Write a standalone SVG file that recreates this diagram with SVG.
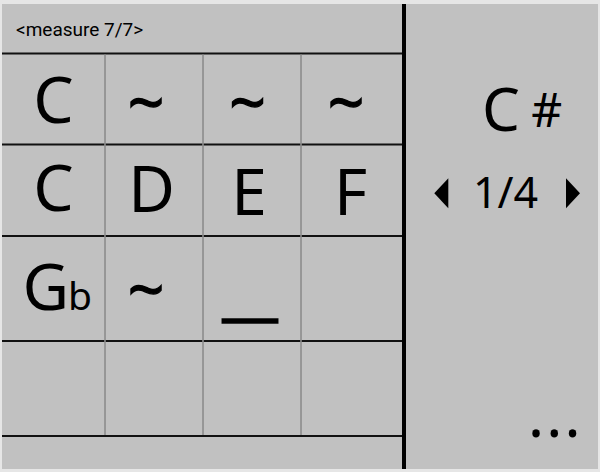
<svg xmlns="http://www.w3.org/2000/svg" width="600" height="472" viewBox="0 0 600 472">
  <style>
    .big { font-family: "Noto Sans", "Open Sans", sans-serif; font-size: 64px; fill: #000; }
    .tilde { stroke: #000; stroke-width: 1.3; }
    .hdr { font-family: Roboto, "Liberation Sans", sans-serif; font-size: 19px; fill: #000; }
    .rowline { stroke: #111; stroke-width: 2; }
    .colline { stroke: #8c8c8c; stroke-width: 1.6; }
  </style>
  <rect x="0" y="0" width="600" height="472" fill="#e6e6e6"/>
  <rect x="2" y="4" width="596" height="465" fill="#c1c1c1"/>

  <g id="grid">
    <line class="rowline" x1="2" y1="53.5" x2="402" y2="53.5"/>
    <line class="rowline" x1="2" y1="144.5" x2="402" y2="144.5"/>
    <line class="rowline" x1="2" y1="236" x2="402" y2="236"/>
    <line class="rowline" x1="2" y1="341" x2="402" y2="341"/>
    <line class="rowline" x1="2" y1="436" x2="402" y2="436"/>
    <line class="colline" x1="105" y1="54.5" x2="105" y2="435"/>
    <line class="colline" x1="203" y1="54.5" x2="203" y2="435"/>
    <line class="colline" x1="301" y1="54.5" x2="301" y2="435"/>
    <rect x="402" y="4" width="4" height="465" fill="#000"/>
  </g>

  <g id="header">
    <text class="hdr" x="16" y="36">&lt;measure 7/7&gt;</text>
  </g>

  <g id="row1">
    <text class="big" x="53.5" y="123.3" text-anchor="middle">C</text>
    <text class="big tilde" x="146" y="124.8" text-anchor="middle">~</text>
    <text class="big tilde" x="247.5" y="124.8" text-anchor="middle">~</text>
    <text class="big tilde" x="346" y="124.8" text-anchor="middle">~</text>
  </g>

  <g id="row2">
    <text class="big" x="53.5" y="211.3" text-anchor="middle">C</text>
    <text class="big" x="151.5" y="211.7" text-anchor="middle">D</text>
    <text class="big" x="249" y="215" text-anchor="middle">E</text>
    <text class="big" x="350.5" y="215" text-anchor="middle">F</text>
  </g>

  <g id="row3">
    <text class="big" x="22.5" y="310">G<tspan style="font-size:39px" dx="-1">b</tspan></text>
    <text class="big tilde" x="146" y="311.5" text-anchor="middle">~</text>
    <text class="big tilde" x="223" y="313" textLength="54" lengthAdjust="spacingAndGlyphs">_</text>
  </g>

  <g id="side-panel">
    <text class="big" x="501" y="131" style="font-size:60px" text-anchor="middle">C</text>
    <text class="big" x="546.7" y="126.7" style="font-size:48px" text-anchor="middle">#</text>
    <polygon points="434.3,193.3 448.3,178.3 448.3,208.3" fill="#000"/>
    <text class="big" x="505.5" y="208" style="font-size:43px" text-anchor="middle">1/4</text>
    <polygon points="580,193.3 566,178.3 566,208.3" fill="#000"/>
    <text class="big" x="528" y="436.7" style="font-size:60px" letter-spacing="2.2">...</text>
  </g>
</svg>
